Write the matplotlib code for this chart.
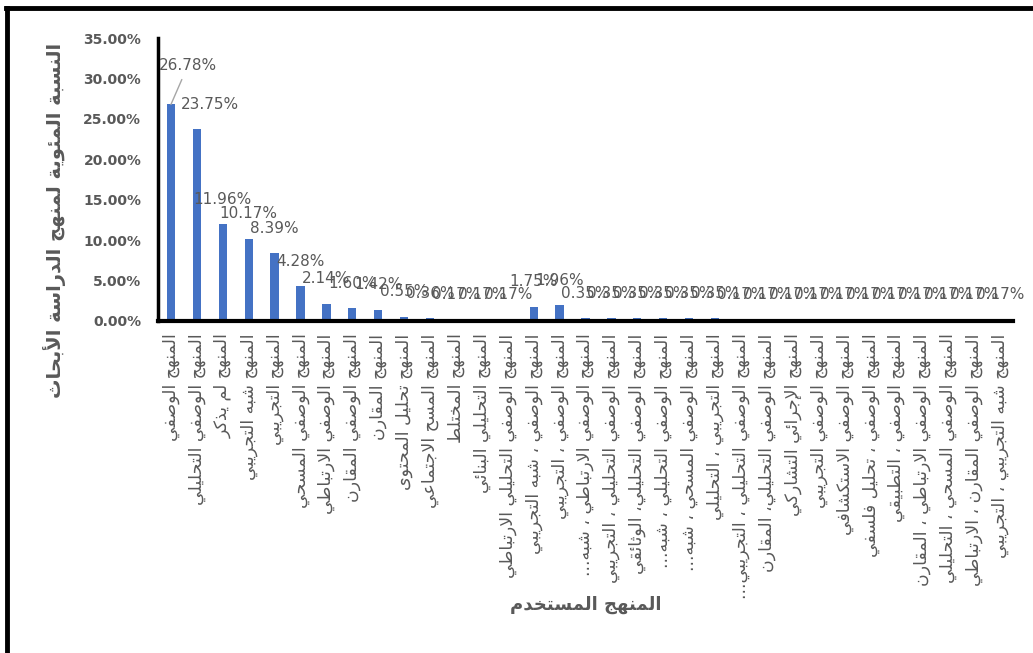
import matplotlib
matplotlib.use("Agg")
import matplotlib.pyplot as plt
from matplotlib.lines import Line2D

# research methods (x axis) and share of studies in percent
methods = [
    "المنهج الوصفي",
    "المنهج الوصفي التحليلي",
    "المنهج لم يذكر",
    "المنهج شبه التجريبي",
    "المنهج التجريبي",
    "المنهج الوصفي المسحي",
    "المنهج الوصفي الارتباطي",
    "المنهج الوصفي المقارن",
    "المنهج المقارن",
    "المنهج تحليل المحتوى",
    "المنهج المسح الاجتماعي",
    "المنهج المختلط",
    "المنهج التحليلي البنائي",
    "المنهج الوصفي التحليلي الارتباطي",
    "المنهج الوصفي ، شبه التجريبي",
    "المنهج الوصفي ، التجريبي",
    "المنهج الوصفي الارتباطي ، شبه...",
    "المنهج الوصفي التحليلي ، التجريبي",
    "المنهج الوصفي التحليلي، الوثائقي",
    "المنهج الوصفي التحليلي ، شبه...",
    "المنهج الوصفي المسحي ، شبه...",
    "المنهج التجريبي ، التحليلي",
    "المنهج الوصفي التحليلي ، التجريبي...",
    "المنهج الوصفي التحليلي، المقارن",
    "المنهج الإجرائي التشاركي",
    "المنهج الوصفي التجريبي",
    "المنهج الوصفي الاستكشافي",
    "المنهج الوصفي ، تحليل فلسفي",
    "المنهج الوصفي ، التطبيقي",
    "المنهج الوصفي الارتباطي ، المقارن",
    "المنهج الوصفي المسحي ، التحليلي",
    "المنهج الوصفي المقارن ، الارتباطي",
    "المنهج شبه التجريبي ، التجريبي",
]
percent = [26.78, 23.75, 11.96, 10.17, 8.39, 4.28, 2.14, 1.60, 1.42, 0.55,
           0.36, 0.17, 0.17, 0.17, 1.75, 1.96, 0.35, 0.35, 0.35, 0.35,
           0.35, 0.35, 0.17, 0.17, 0.17, 0.17, 0.17, 0.17, 0.17, 0.17,
           0.17, 0.17, 0.17]
y_ticks = [0, 5, 10, 15, 20, 25, 30, 35]

x_title = "المنهج المستخدم"
y_title = "النسبة المئوية لمنهج الدراسة الأبحاث"

# matplotlib has no arabic shaping, so do it by hand with presentation forms
FORMS = {
    'ا': (0xFE8D, 0xFE8E), 'أ': (0xFE83, 0xFE84), 'إ': (0xFE87, 0xFE88),
    'آ': (0xFE81, 0xFE82), 'ب': (0xFE8F, 0xFE90, 0xFE91, 0xFE92),
    'ة': (0xFE93, 0xFE94), 'ت': (0xFE95, 0xFE96, 0xFE97, 0xFE98),
    'ث': (0xFE99, 0xFE9A, 0xFE9B, 0xFE9C), 'ج': (0xFE9D, 0xFE9E, 0xFE9F, 0xFEA0),
    'ح': (0xFEA1, 0xFEA2, 0xFEA3, 0xFEA4), 'خ': (0xFEA5, 0xFEA6, 0xFEA7, 0xFEA8),
    'د': (0xFEA9, 0xFEAA), 'ذ': (0xFEAB, 0xFEAC), 'ر': (0xFEAD, 0xFEAE),
    'ز': (0xFEAF, 0xFEB0), 'س': (0xFEB1, 0xFEB2, 0xFEB3, 0xFEB4),
    'ش': (0xFEB5, 0xFEB6, 0xFEB7, 0xFEB8), 'ص': (0xFEB9, 0xFEBA, 0xFEBB, 0xFEBC),
    'ض': (0xFEBD, 0xFEBE, 0xFEBF, 0xFEC0), 'ط': (0xFEC1, 0xFEC2, 0xFEC3, 0xFEC4),
    'ظ': (0xFEC5, 0xFEC6, 0xFEC7, 0xFEC8), 'ع': (0xFEC9, 0xFECA, 0xFECB, 0xFECC),
    'غ': (0xFECD, 0xFECE, 0xFECF, 0xFED0), 'ف': (0xFED1, 0xFED2, 0xFED3, 0xFED4),
    'ق': (0xFED5, 0xFED6, 0xFED7, 0xFED8), 'ك': (0xFED9, 0xFEDA, 0xFEDB, 0xFEDC),
    'ل': (0xFEDD, 0xFEDE, 0xFEDF, 0xFEE0), 'م': (0xFEE1, 0xFEE2, 0xFEE3, 0xFEE4),
    'ن': (0xFEE5, 0xFEE6, 0xFEE7, 0xFEE8), 'ه': (0xFEE9, 0xFEEA, 0xFEEB, 0xFEEC),
    'و': (0xFEED, 0xFEEE), 'ى': (0xFEEF, 0xFEF0),
    'ي': (0xFEF1, 0xFEF2, 0xFEF3, 0xFEF4), 'ئ': (0xFE89, 0xFE8A, 0xFE8B, 0xFE8C),
    'ؤ': (0xFE85, 0xFE86),
}
LAM_ALEF = {'ا': (0xFEFB, 0xFEFC), 'أ': (0xFEF7, 0xFEF8),
            'إ': (0xFEF9, 0xFEFA), 'آ': (0xFEF5, 0xFEF6)}


def links_next(ch):
    return ch in FORMS and len(FORMS[ch]) == 4


def shape(text):
    out = []
    i = 0
    while i < len(text):
        ch = text[i]
        if ch not in FORMS:
            out.append(ch)
            i += 1
            continue
        prev = text[i - 1] if i > 0 else ''
        nxt = text[i + 1] if i + 1 < len(text) else ''
        joined_prev = links_next(prev)
        if ch == 'ل' and nxt in LAM_ALEF:
            out.append(chr(LAM_ALEF[nxt][1 if joined_prev else 0]))
            i += 2
            continue
        joined_next = links_next(ch) and nxt in FORMS
        f = FORMS[ch]
        if joined_prev and joined_next:
            g = f[3]
        elif joined_prev:
            g = f[1]
        elif joined_next:
            g = f[2]
        else:
            g = f[0]
        out.append(chr(g))
        i += 1
    return ''.join(reversed(out))


grey = '#595959'
fig = plt.figure(figsize=(10.33, 6.53), dpi=100)
ax = fig.add_axes([158 / 1033, 1 - 321 / 653, 855 / 1033, 283 / 653])

x = list(range(len(methods)))
ax.bar(x, percent, width=0.32, color='#4472C4')
ax.set_xlim(-0.5, len(methods) - 0.5)
ax.set_ylim(0, 35)

ax.set_yticks(y_ticks)
ax.set_yticklabels([f"{t:.2f}%" for t in y_ticks], fontsize=10,
                   fontweight='bold', color=grey)
ax.set_xticks(x)
ax.set_xticklabels([shape(m) for m in methods], rotation=90, va='top',
                   ha='center', fontsize=12.5, color=grey)
ax.tick_params(length=0, axis='x', pad=9)
ax.tick_params(length=0, axis='y', pad=12)

for side in ['top', 'right']:
    ax.spines[side].set_visible(False)
ax.spines['left'].set_linewidth(2.5)
ax.spines['bottom'].set_linewidth(3)

for i, v in enumerate(percent):
    lab = f"{v:.2f}%"
    if i == 0:
        ax.annotate(lab, (i, v), xytext=(17, 39), textcoords='offset pixels',
                    ha='center', va='center', fontsize=11, color=grey,
                    arrowprops=dict(arrowstyle='-', color='#a6a6a6',
                                    shrinkA=3, shrinkB=0))
    elif i == 1:
        ax.annotate(lab, (i, v), xytext=(13, 24), textcoords='offset pixels',
                    ha='center', va='center', fontsize=11, color=grey)
    else:
        ax.annotate(lab, (i, v), xytext=(0, 25), textcoords='offset pixels',
                    ha='center', va='center', fontsize=11, color=grey)

fig.text(586 / 1033, 1 - 605 / 653, shape(x_title), ha='center', va='center',
         fontsize=13, fontweight='bold', color=grey)
fig.text(55 / 1033, 1 - 220 / 653, shape(y_title), ha='center', va='center',
         rotation=90, fontsize=14, fontweight='bold', color=grey)

# outer frame (only top and left edges show in the picture)
fig.add_artist(Line2D([6 / 1033, 1], [1 - 8 / 653] * 2,
                      transform=fig.transFigure, color='black', lw=3.5))
fig.add_artist(Line2D([7 / 1033] * 2, [0, 1 - 8 / 653],
                      transform=fig.transFigure, color='black', lw=3.5))

fig.savefig('out.png', dpi=100)
